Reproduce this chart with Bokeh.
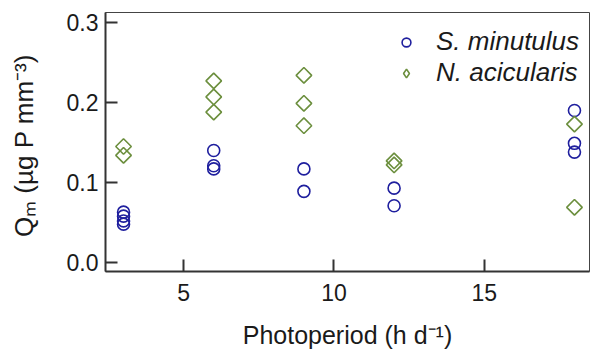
from math import pi
from bokeh.plotting import figure
from bokeh.models import Legend, LegendItem, FixedTicker, Range1d
from bokeh.embed import file_html
from bokeh.resources import INLINE

# ---- data ----
series_names = ["S. minutulus", "N. acicularis"]
photoperiod_s = [3, 3, 3, 3, 6, 6, 6, 9, 9, 12, 12, 18, 18, 18]
qm_s = [0.063, 0.058, 0.052, 0.048, 0.140, 0.121, 0.117, 0.117, 0.089,
        0.093, 0.071, 0.190, 0.149, 0.138]
photoperiod_n = [3, 3, 6, 6, 6, 9, 9, 9, 12, 12, 18, 18]
qm_n = [0.145, 0.134, 0.227, 0.207, 0.188, 0.234, 0.199, 0.171, 0.127,
        0.122, 0.173, 0.069]
x_ticks = [5, 10, 15]
x_tick_labels = ["5", "10", "15"]
y_ticks = [0.0, 0.1, 0.2, 0.3]
y_tick_labels = ["0.0", "0.1", "0.2", "0.3"]
x_title = "Photoperiod (h d\u207b\u00b9)"
y_title = "Q\u2098  (\u00b5g P mm\u207b\u00b3)"

BLUE = "#1f1f9e"
GREEN = "#6c8f3e"
FONT = "Liberation Sans"
TXT = "#1a1a1a"
AX = "#333333"

W, H = 590, 351
p = figure(width=W, height=H, output_backend="svg", toolbar_location=None,
           x_range=Range1d(2.4, 18.5), y_range=Range1d(-0.0112, 0.3125),
           min_border_left=105, min_border_right=1, min_border_top=12,
           min_border_bottom=79)
p.xgrid.visible = False
p.ygrid.visible = False
p.outline_line_color = "#444444"
p.outline_line_width = 1
p.background_fill_color = "white"
p.border_fill_color = "white"

for ax in (p.xaxis[0], p.yaxis[0]):
    ax.axis_line_width = 2
    ax.axis_line_color = AX
    ax.major_tick_line_width = 2
    ax.major_tick_line_color = AX
    ax.major_tick_in = 12
    ax.major_tick_out = 0
    ax.minor_tick_line_color = None
    ax.major_label_text_font = FONT
    ax.major_label_text_font_size = "23px"
    ax.major_label_text_color = TXT
    ax.axis_label_text_font = FONT
    ax.axis_label_text_font_style = "normal"
    ax.axis_label_text_color = TXT

p.xaxis[0].ticker = FixedTicker(ticks=x_ticks)
p.xaxis[0].major_label_overrides = {t: l for t, l in zip(x_ticks, x_tick_labels)}
p.xaxis[0].major_label_standoff = 12
p.xaxis[0].axis_label = x_title
p.xaxis[0].axis_label_text_font_size = "25px"
p.xaxis[0].axis_label_standoff = 17

p.yaxis[0].ticker = FixedTicker(ticks=y_ticks)
p.yaxis[0].major_label_overrides = {t: l for t, l in zip(y_ticks, y_tick_labels)}
p.yaxis[0].major_label_standoff = 7
p.yaxis[0].axis_label = y_title
p.yaxis[0].axis_label_text_font_size = "26px"
p.yaxis[0].axis_label_standoff = 25

r1 = p.scatter(photoperiod_s, qm_s, marker="circle", size=12, fill_color=None,
               line_color=BLUE, line_width=1.6)
r2 = p.scatter(photoperiod_n, qm_n, marker="square", angle=pi / 4, size=11,
               fill_color=None, line_color=GREEN, line_width=1.6)
# hidden twin used only as the legend key (legend keys are drawn unrotated)
r2_key = p.scatter(photoperiod_n, qm_n, marker="diamond", size=11,
                   fill_color=None, line_color=GREEN, line_width=1.6,
                   visible=False)

legend = Legend(items=[LegendItem(label=series_names[0], renderers=[r1]),
                       LegendItem(label=series_names[1], renderers=[r2_key])],
                location=(290, 183), border_line_color=None,
                background_fill_alpha=0, inactive_fill_alpha=0,
                glyph_width=22, glyph_height=26,
                label_standoff=19, padding=4, spacing=0, label_height=26,
                margin=0, label_text_font=FONT, label_text_font_style="italic",
                label_text_font_size="26px", label_text_line_height=1.0,
                label_text_color=TXT)
p.add_layout(legend)

open("out.html", "w").write(file_html(p, INLINE))
